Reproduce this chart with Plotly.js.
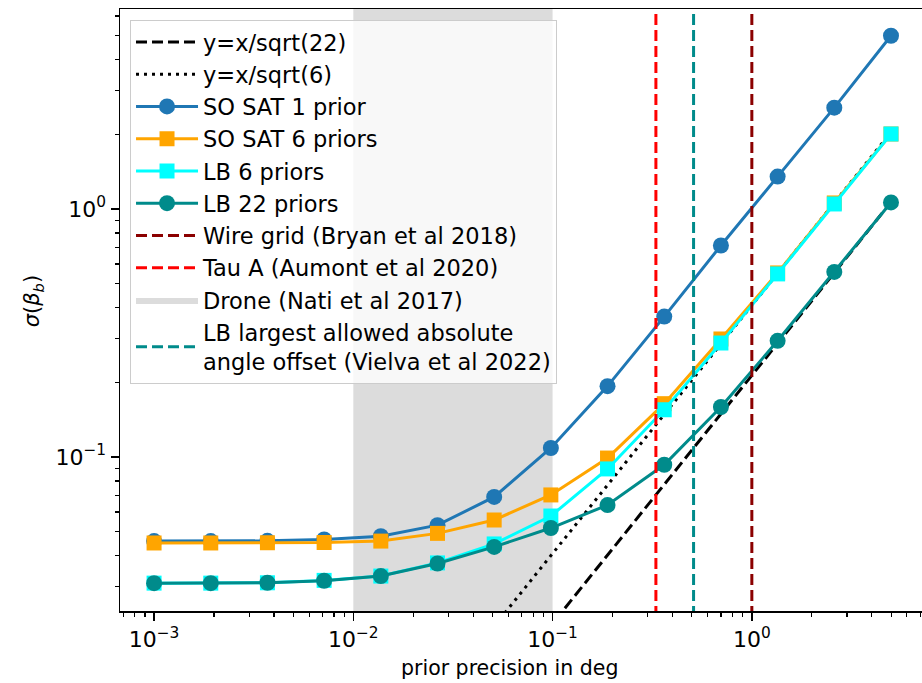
<!DOCTYPE html>
<html>
<head>
<meta charset="utf-8">
<script src="https://cdn.plot.ly/plotly-3.0.1.min.js"></script>
<style>
  html, body { margin: 0; padding: 0; background: #fff; }
  #chart { width: 922px; height: 683px; }
</style>
</head>
<body>
<div id="chart"></div>
<script>
// Prior precision on the calibration angle (deg)
const precision = [0.001, 0.001925, 0.003706, 0.007135, 0.01374, 0.02645, 0.05092,
                   0.09803, 0.1887, 0.3634, 0.6996, 1.347, 2.593, 4.993];

// sigma(beta_b) for each configuration
const soSat1 = [0.0458, 0.0458, 0.0459, 0.0465, 0.0479, 0.0531, 0.0690,
                0.1087, 0.193, 0.368, 0.712, 1.35, 2.56, 4.99];
const soSat6 = [0.0450, 0.0450, 0.0451, 0.0452, 0.0458, 0.0492, 0.0557,
                0.0703, 0.0990, 0.164, 0.299, 0.552, 1.057, 2.005];
const lb6    = [0.0310, 0.0310, 0.0311, 0.0318, 0.0331, 0.0374, 0.0446,
                0.0578, 0.0895, 0.155, 0.288, 0.547, 1.047, 2.005];
const lb22   = [0.0310, 0.0310, 0.0311, 0.0317, 0.0331, 0.0372, 0.0434,
                0.0517, 0.0640, 0.093, 0.159, 0.294, 0.557, 1.062];

// Reference scalings y = x/sqrt(N), given by their end points
const refX    = [0.001, 5];
const refY22  = [0.000213, 1.066];
const refY6   = [0.000408, 2.041];

// Calibration references
const wireGridX = 1.0;
const tauAX     = 0.33;
const vielvaX   = 0.51;
const droneBand = [0.01, 0.1];

// Vertical span used to draw full-height markers
const spanY = [0.001, 100];

const tickVals = [0.001, 0.01, 0.1, 1];
const xTickText = ['10<sup>−3</sup>', '10<sup>−2</sup>', '10<sup>−1</sup>', '10<sup>0</sup>'];
const yTickVals = [0.1, 1];
const yTickText = ['10<sup>−1</sup>', '10<sup>0</sup>'];

const FONT = 'DejaVu Sans, sans-serif';
const dashPat = '11px,5px';

function vline(x, color, name, rank) {
  return {
    x: [x, x], y: spanY, mode: 'lines', name: name, legendrank: rank,
    line: { color: color, width: 3, dash: dashPat }, hoverinfo: 'skip'
  };
}

const traces = [
  {
    x: [droneBand[0], droneBand[1], droneBand[1], droneBand[0], droneBand[0]],
    y: [spanY[0], spanY[0], spanY[1], spanY[1], spanY[0]],
    mode: 'lines', fill: 'toself', fillcolor: 'rgb(220,220,220)',
    line: { width: 0, color: 'rgb(220,220,220)' },
    name: 'Drone (Nati et al 2017)', legendrank: 9, hoverinfo: 'skip'
  },
  {
    x: refX, y: refY22, mode: 'lines', name: 'y=x/sqrt(22)', legendrank: 1,
    line: { color: 'black', width: 3, dash: dashPat }
  },
  {
    x: refX, y: refY6, mode: 'lines', name: 'y=x/sqrt(6)', legendrank: 2,
    line: { color: 'black', width: 3, dash: '3px,5px' }
  },
  {
    x: precision, y: soSat1, mode: 'lines+markers', name: 'SO SAT 1 prior', legendrank: 3,
    line: { color: '#1f77b4', width: 3 },
    marker: { color: '#1f77b4', symbol: 'circle', size: 16 }
  },
  {
    x: precision, y: soSat6, mode: 'lines+markers', name: 'SO SAT 6 priors', legendrank: 4,
    line: { color: '#ffa500', width: 3 },
    marker: { color: '#ffa500', symbol: 'square', size: 15 }
  },
  {
    x: precision, y: lb6, mode: 'lines+markers', name: 'LB 6 priors', legendrank: 5,
    line: { color: '#00ffff', width: 3 },
    marker: { color: '#00ffff', symbol: 'square', size: 15 }
  },
  {
    x: precision, y: lb22, mode: 'lines+markers', name: 'LB 22 priors', legendrank: 6,
    line: { color: '#008b8b', width: 3 },
    marker: { color: '#008b8b', symbol: 'circle', size: 16 }
  },
  vline(wireGridX, '#8b0000', 'Wire grid (Bryan et al 2018)', 7),
  vline(tauAX, '#ff0000', 'Tau A (Aumont et al 2020)', 8),
  vline(vielvaX, '#008b8b', 'LB largest allowed absolute<br>angle offset (Vielva et al 2022)', 10)
];

const layout = {
  width: 922, height: 683,
  margin: { l: 120, r: 0, t: 9, b: 72 },
  paper_bgcolor: 'white', plot_bgcolor: 'white',
  font: { family: FONT, size: 22, color: 'black' },
  showlegend: true,
  legend: {
    x: 0.0125, y: 0.982, xanchor: 'left', yanchor: 'top',
    bgcolor: 'rgba(255,255,255,0.8)', bordercolor: '#cccccc', borderwidth: 1,
    font: { family: FONT, size: 22.5, color: 'black' },
    itemwidth: 62,
    traceorder: 'normal'
  },
  xaxis: {
    type: 'log', range: [-3.171, 0.854],
    tickmode: 'array', tickvals: tickVals, ticktext: xTickText,
    ticks: 'outside', ticklen: 8, tickwidth: 1.5, tickcolor: 'black',
    showline: true, linecolor: 'black', linewidth: 1.5, mirror: true,
    showgrid: false, zeroline: false,
    minor: { ticks: 'outside', ticklen: 4, tickwidth: 1.2, tickcolor: 'black', dtick: 'D1', showgrid: false },
    tickfont: { family: FONT, size: 22 }
  },
  yaxis: {
    type: 'log', range: [-1.621, 0.806],
    tickmode: 'array', tickvals: yTickVals, ticktext: yTickText,
    ticks: 'outside', ticklen: 8, tickwidth: 1.5, tickcolor: 'black',
    showline: true, linecolor: 'black', linewidth: 1.5, mirror: true,
    showgrid: false, zeroline: false,
    minor: { ticks: 'outside', ticklen: 4, tickwidth: 1.2, tickcolor: 'black', dtick: 'D1', showgrid: false },
    tickfont: { family: FONT, size: 22 }
  },
  annotations: [
    {
      text: 'prior precision in deg', xref: 'paper', yref: 'paper',
      x: 0.486, y: -0.095, xanchor: 'center', yanchor: 'middle', showarrow: false,
      font: { family: FONT, size: 20.5, color: 'black' }
    },
    {
      text: '<i>σ</i>(<i>β</i><sub><i>b</i></sub>)', xref: 'paper', yref: 'paper',
      x: -0.108, y: 0.515, xanchor: 'center', yanchor: 'middle', showarrow: false,
      textangle: -90, font: { family: FONT, size: 21, color: 'black' }
    }
  ]
};

Plotly.newPlot('chart', traces, layout, { displayModeBar: false, staticPlot: true });
</script>
</body>
</html>
